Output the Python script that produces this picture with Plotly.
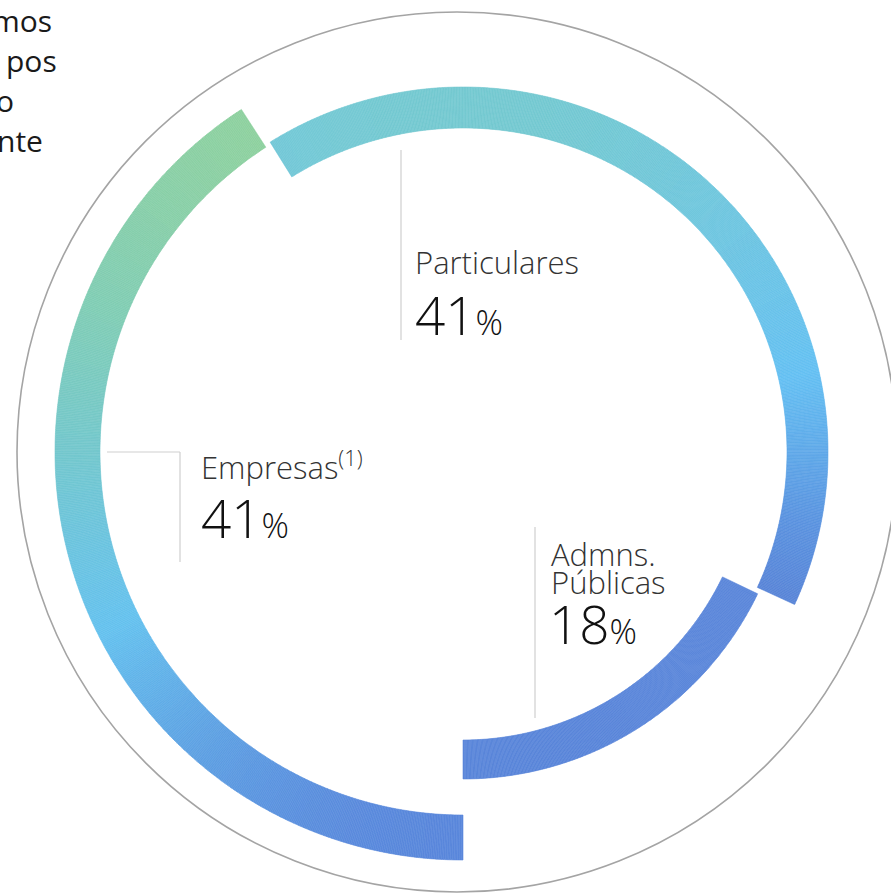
import numpy as np
import plotly.graph_objects as go

# ---------------- data ----------------
categories = ["Empresas", "Particulares", "Admns. Públicas"]
shares = [41, 41, 18]
label_lines = [["Empresas<sup>(1)</sup>"], ["Particulares"], ["Admns.", "Públicas"]]
pct_values = ["41", "41", "18"]
intro_fragments = ["mos", "pos", "o", "nte"]

# ---------------- layout constants (pixels) ----------------
W, H = 891, 894
CX, CY = 463, 452
R_AXIS = 410

ring_radii = {"Empresas": (363, 408), "Particulares": (324, 365), "Admns. Públicas": (288, 327)}
gradient_stops = {
    "Empresas": [(0.0, "#8fd1a0"), (0.25, "#82ceb5"), (0.45, "#75c8cd"),
                 (0.70, "#66c2ef"), (0.85, "#5fa4e4"), (1.0, "#5b88dc")],
    "Particulares": [(0.0, "#76cad1"), (0.55, "#66c1f3"), (0.85, "#5c94e0"), (1.0, "#5a86d8")],
    "Admns. Públicas": [(0.0, "#5b87da"), (1.0, "#5b87da")],
}
START_ANGLE = 180.0
GAP = 1.0
STEP = 0.25


def px(x):
    return x / W


def py(y):
    return 1 - y / H


def hex_to_rgb(h):
    h = h.lstrip("#")
    return np.array([int(h[i:i + 2], 16) for i in (0, 2, 4)], dtype=float)


def interp_color(stops, t):
    ts = [s[0] for s in stops]
    cols = [hex_to_rgb(s[1]) for s in stops]
    for k in range(len(ts) - 1):
        if t <= ts[k + 1] or k == len(ts) - 2:
            a, b = ts[k], ts[k + 1]
            f = 0 if b == a else min(max((t - a) / (b - a), 0), 1)
            c = cols[k] * (1 - f) + cols[k + 1] * f
            return "rgb(%d,%d,%d)" % tuple(np.round(c).astype(int))


fig = go.Figure()

bounds = START_ANGLE + np.concatenate([[0], np.cumsum(shares)]) * 360.0 / sum(shares)
for i, cat in enumerate(categories):
    a0, a1 = bounds[i], bounds[i + 1]
    if i > 0:
        a0 += GAP / 2
    if i < len(categories) - 1:
        a1 -= GAP / 2
    n = int(np.ceil((a1 - a0) / STEP))
    w = (a1 - a0) / n
    centers = a0 + w * (np.arange(n) + 0.5)
    r0, r1 = ring_radii[cat]
    rm = (r0 + r1) / 2
    yy = CY - rm * np.cos(np.radians(centers))
    tt = (yy - yy.min()) / max(yy.max() - yy.min(), 1e-9)
    colors = [interp_color(gradient_stops[cat], t) for t in tt]
    fig.add_trace(go.Barpolar(
        r=[r1 - r0] * n, base=[r0] * n, theta=centers, width=[w] * n,
        marker=dict(color=colors, line=dict(color=colors, width=0.6)),
        hoverinfo="skip", showlegend=False, name=cat,
    ))

fig.update_layout(
    width=W, height=H,
    margin=dict(l=0, r=0, t=0, b=0),
    paper_bgcolor="white",
    polar=dict(
        domain=dict(x=[px(CX - R_AXIS), px(CX + R_AXIS)], y=[py(CY + R_AXIS), py(CY - R_AXIS)]),
        radialaxis=dict(range=[0, R_AXIS], visible=False, showgrid=False),
        angularaxis=dict(visible=False, rotation=90, direction="clockwise", showgrid=False),
        bgcolor="rgba(0,0,0,0)",
        bargap=0,
    ),
)

# outer grey circle
GCX, GCY, GR = 457, 452, 440
shapes = [dict(type="circle", xref="paper", yref="paper",
               x0=px(GCX - GR), x1=px(GCX + GR), y0=py(GCY + GR), y1=py(GCY - GR),
               line=dict(color="#a4a4a4", width=1.6), layer="below")]

LINE = dict(color="#cfcfcf", width=1.2)
leader_lines = [
    [(107, 452), (180, 452)], [(180, 452), (180, 562)],   # Empresas
    [(401, 150), (401, 340)],                           # Particulares
    [(535, 527), (535, 718)],                           # Admns
]
for (x0, y0), (x1, y1) in leader_lines:
    shapes.append(dict(type="line", xref="paper", yref="paper",
                       x0=px(x0), y0=py(y0), x1=px(x1), y1=py(y1), line=LINE))
fig.update_layout(shapes=shapes)

FONT = "Open Sans"
ann = []
label_pos = {"Empresas": (199, [465]), "Particulares": (413, [262]), "Admns. Públicas": (549, [554, 582])}
pct_pos = {"Empresas": (199, 517), "Particulares": (413, 314), "Admns. Públicas": (547, 623)}
for i, cat in enumerate(categories):
    x, ys = label_pos[cat]
    for line, y in zip(label_lines[i], ys):
        ann.append(dict(x=px(x), y=py(y), xref="paper", yref="paper", xanchor="left", yanchor="middle",
                        text=line, showarrow=False,
                        font=dict(family=FONT, size=31, color="#333333", weight=300)))
    x, y = pct_pos[cat]
    ann.append(dict(x=px(x), y=py(y), xref="paper", yref="paper", xanchor="left", yanchor="middle",
                    text=pct_values[i] + "<span style='font-size:34px'>%</span>", showarrow=False,
                    font=dict(family=FONT, size=53, color="#111111", weight=300)))

frag_pos = [(54, 20), (59, 60), (16, 100), (45, 140)]
for t, (x, y) in zip(intro_fragments, frag_pos):
    ann.append(dict(x=px(x), y=py(y), xref="paper", yref="paper", xanchor="right", yanchor="middle",
                    text=t, showarrow=False,
                    font=dict(family=FONT, size=30, color="#1a1a1a", weight=400)))

fig.update_layout(annotations=ann)
fig.write_html("out.html", config={"displayModeBar": False},
               post_script="document.body.style.margin='0';document.body.style.padding='0';")
